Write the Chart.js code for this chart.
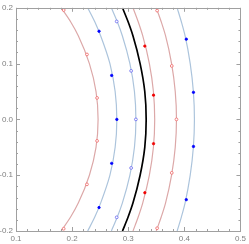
<!DOCTYPE html>
<html>
<head>
<meta charset="utf-8">
<script src="https://cdn.jsdelivr.net/npm/chart.js@4"></script>
<style>
html,body{margin:0;padding:0;background:#fff;}
#wrap{width:249px;height:244px;}
</style>
</head>
<body>
<div id="wrap"><canvas id="c" width="249" height="244"></canvas></div>
<script>
// y levels at which each curve's x value was read
const yLevels = [-0.2, -0.175, -0.15, -0.1, -0.05, 0, 0.05, 0.1, 0.15, 0.175, 0.2];
const curvePink1 = [0.1805, 0.1973, 0.2110, 0.2308, 0.2426, 0.2463, 0.2426, 0.2308, 0.2110, 0.1973, 0.1805];
const curveBlue1 = [0.2278, 0.2404, 0.2508, 0.2674, 0.2767, 0.2797, 0.2767, 0.2674, 0.2508, 0.2404, 0.2278];
const curveBlue2 = [0.2700, 0.2805, 0.2895, 0.3030, 0.3111, 0.3137, 0.3111, 0.3030, 0.2895, 0.2805, 0.2700];
const curveBlack = [0.2898, 0.2998, 0.3084, 0.3212, 0.3295, 0.3320, 0.3295, 0.3212, 0.3084, 0.2998, 0.2898];
const curvePink2 = [0.3085, 0.3178, 0.3258, 0.3377, 0.3449, 0.3472, 0.3449, 0.3377, 0.3258, 0.3178, 0.3085];
const curvePink3 = [0.3500, 0.3588, 0.3665, 0.3773, 0.3838, 0.3860, 0.3838, 0.3773, 0.3665, 0.3588, 0.3500];
const curveBlue3 = [0.3872, 0.3947, 0.4013, 0.4105, 0.4161, 0.4180, 0.4161, 0.4105, 0.4013, 0.3947, 0.3872];

// markers
const redOpenX  = [0.1850, 0.2265, 0.2445, 0.2445, 0.2265, 0.1850, 0.3515, 0.3776, 0.3860, 0.3776, 0.3515];
const redOpenY  = [-0.1960, -0.1164, -0.0385, 0.0385, 0.1164, 0.1960, -0.1950, -0.0958, 0, 0.0958, 0.1950];
const blueDotX  = [0.2480, 0.2705, 0.2797, 0.2705, 0.2480, 0.4035, 0.4163, 0.4163, 0.4035];
const blueDotY  = [-0.1580, -0.0788, 0, 0.0788, 0.1580, -0.1438, -0.0485, 0.0485, 0.1438];
const blueOpenX = [0.2795, 0.3052, 0.3137, 0.3052, 0.2795];
const blueOpenY = [-0.1755, -0.0870, 0, 0.0870, 0.1755];
const redDotX   = [0.3296, 0.3451, 0.3451, 0.3296];
const redDotY   = [-0.1314, -0.0435, 0.0435, 0.1314];

const xTickLabels = ['0.1','0.2','0.3','0.4','0.5'];
const yTickLabels = ['-0.2','-0.1','0.0','0.1','0.2'];

const PINK = 'rgb(220,168,168)';
const BLUE = 'rgb(172,196,220)';

function curve(arr, color, w){
  return {type:'line', indexAxis:'y', data: yLevels.map((y,i)=>({x:arr[i], y:y})), borderColor:color,
    borderWidth:w, pointRadius:0, cubicInterpolationMode:'monotone', fill:false, order:1};
}
function markers(xs, ys, stroke, fill, r){
  return {type:'scatter', data: xs.map((x,i)=>({x:x, y:ys[i]})), showLine:false,
    pointRadius:r, pointBorderWidth:0.8, borderColor:stroke, backgroundColor:fill,
    pointBackgroundColor:fill, pointBorderColor:stroke, order:0};
}

function isMajor(v){ return Math.abs(v*10 - Math.round(v*10)) < 1e-6; }

const framePlugin = {
  id:'frame',
  afterDatasetsDraw(chart){
    const ctx = chart.ctx, a = chart.chartArea;
    const xs = chart.scales.x, ys = chart.scales.y;
    ctx.save();
    ctx.strokeStyle = '#a0a0a0';
    ctx.lineWidth = 1;
    ctx.strokeRect(Math.round(a.left)+0.5, Math.round(a.top)+0.5,
      Math.round(a.right)-Math.round(a.left), Math.round(a.bottom)-Math.round(a.top));
    ctx.beginPath();
    xs.ticks.forEach(t=>{
      const px = Math.round(xs.getPixelForValue(t.value))+0.5;
      const L = isMajor(t.value) ? 4 : 2;
      ctx.moveTo(px, a.bottom); ctx.lineTo(px, a.bottom - L);
      ctx.moveTo(px, a.top); ctx.lineTo(px, a.top + L);
    });
    ys.ticks.forEach(t=>{
      const py = Math.round(ys.getPixelForValue(t.value))+0.5;
      const L = isMajor(t.value) ? 4 : 2;
      ctx.moveTo(a.left, py); ctx.lineTo(a.left + L, py);
      ctx.moveTo(a.right, py); ctx.lineTo(a.right - L, py);
    });
    ctx.stroke();
    ctx.restore();
  }
};

new Chart(document.getElementById('c'), {
  type:'scatter',
  data:{datasets:[
    markers(redOpenX, redOpenY, 'rgb(240,100,100)', '#ffffff', 1.4),
    markers(blueOpenX, blueOpenY, 'rgb(100,100,240)', '#ffffff', 1.4),
    markers(blueDotX, blueDotY, 'rgb(0,0,255)', 'rgb(0,0,255)', 1.2),
    markers(redDotX, redDotY, 'rgb(240,0,0)', 'rgb(240,0,0)', 1.2),
    curve(curvePink1, PINK, 1.2),
    curve(curveBlue1, BLUE, 1.2),
    curve(curveBlue2, BLUE, 1.2),
    curve(curveBlack, '#000000', 1.7),
    curve(curvePink2, PINK, 1.2),
    curve(curvePink3, PINK, 1.2),
    curve(curveBlue3, BLUE, 1.2)
  ]},
  options:{
    responsive:false, animation:false, devicePixelRatio:1,
    layout:{padding:{top:4, right:6, left:0, bottom:0}},
    plugins:{legend:{display:false}, tooltip:{enabled:false}},
    scales:{
      x:{type:'linear', min:0.1, max:0.5,
        grid:{display:false, drawTicks:false}, border:{display:false},
        afterFit(s){ s.height = 13; },
        ticks:{stepSize:0.02, autoSkip:false, maxRotation:0, padding:3,
          color:'#808080', font:{family:'Liberation Sans', size:8},
          callback(v){ if(!isMajor(v)) return ''; const i = Math.round(v*10)-1; return xTickLabels[i]; }}},
      y:{type:'linear', min:-0.2, max:0.2,
        grid:{display:false, drawTicks:false}, border:{display:false},
        afterFit(s){ s.width = 16; },
        ticks:{stepSize:0.02, autoSkip:false, padding:3,
          color:'#808080', font:{family:'Liberation Sans', size:8},
          callback(v){ if(!isMajor(v)) return ''; const i = Math.round(v*10)+2; return yTickLabels[i]; }}}
    }
  },
  plugins:[framePlugin]
});
</script>
</body>
</html>
